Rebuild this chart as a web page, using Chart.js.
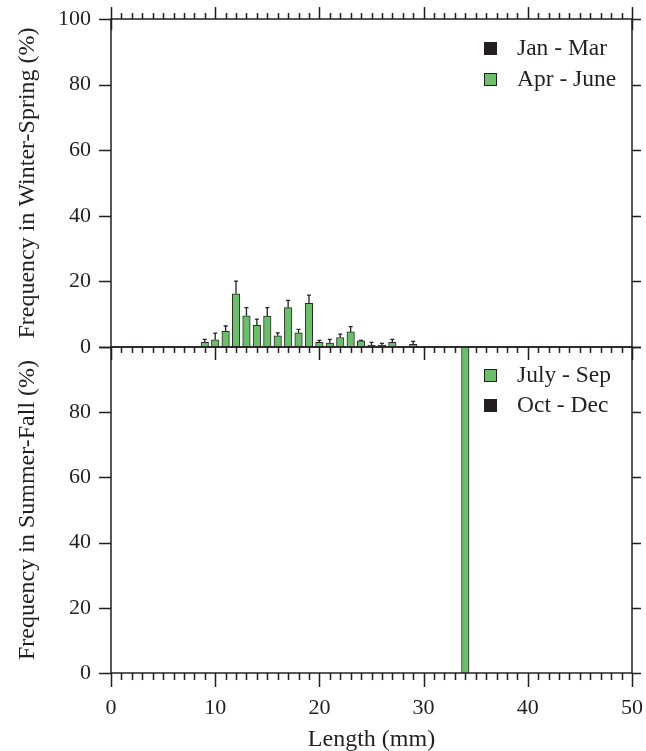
<!DOCTYPE html>
<html>
<head>
<meta charset="utf-8">
<script src="https://cdn.jsdelivr.net/npm/chart.js@4/dist/chart.umd.min.js"></script>
<style>
  html, body { margin: 0; padding: 0; background: #fff; }
  #wrap { position: relative; width: 646px; height: 751px; overflow: hidden; }
  canvas { position: absolute; left: 0; top: 0; }
  .leg { position: absolute; font-family: "Liberation Serif", "DejaVu Serif", serif; font-size: 23.5px; color: #231f20; line-height: 1; white-space: nowrap; }
  .sw { position: absolute; width: 11px; height: 11px; border: 1px solid #231f20; }
</style>
</head>
<body>
<div id="wrap">
  <canvas id="top" width="646" height="751"></canvas>
  <canvas id="bot" width="646" height="751"></canvas>
</div>
<script>
// ---- Data ----
const topLengths = [9, 10, 11, 12, 13, 14, 15, 16, 17, 18, 19, 20, 21, 22, 23, 24, 25, 26, 27, 29];
const aprJune    = [1.4, 2.2, 4.8, 16.2, 9.5, 6.6, 9.4, 3.4, 12.0, 4.3, 13.3, 1.4, 1.2, 2.9, 4.6, 1.9, 0.6, 0.6, 1.4, 0.8];
const aprJuneErr = [0.9, 2.0, 1.6, 3.9, 2.5, 1.9, 2.6, 0.9, 2.2, 1.1, 2.5, 0.6, 1.1, 1.0, 1.6, 0.1, 0.8, 0.5, 0.9, 0.9];
const janMar     = [];
const botLengths = [34];
const julySep    = [100];
const octDec     = [];
const xTickLabels = [0, 10, 20, 30, 40, 50];
const yTickLabels = [0, 20, 40, 60, 80, 100];

const GREEN = '#6abf69';
const DARK = '#231f20';
const FONT = '"Liberation Serif", "DejaVu Serif", serif';

function pts(xs, ys) { return xs.map((x, i) => ({ x: x, y: ys[i] })); }

// error bars + frame / ticks plugin
const framePlugin = {
  id: 'frame',
  afterDatasetsDraw(chart, args, opts) {
    const ctx = chart.ctx;
    const a = chart.chartArea;
    const xs = chart.scales.x, ys = chart.scales.y;
    ctx.save();
    ctx.strokeStyle = DARK;
    ctx.lineWidth = 1.3;
    // error bars
    chart.data.datasets.forEach((ds) => {
      if (!ds.errors) return;
      ds.data.forEach((p, i) => {
        const e = ds.errors[i];
        if (!e) return;
        const px = xs.getPixelForValue(p.x);
        const y0 = ys.getPixelForValue(p.y);
        const y1 = ys.getPixelForValue(p.y + e);
        ctx.beginPath();
        ctx.moveTo(px, y0); ctx.lineTo(px, y1);
        ctx.moveTo(px - 2, y1); ctx.lineTo(px + 2, y1);
        ctx.stroke();
      });
    });
    // frame
    ctx.lineWidth = 1.5;
    ctx.strokeRect(a.left, a.top, a.right - a.left, a.bottom - a.top);
    ctx.beginPath();
    // x ticks
    for (let v = 0; v <= 50; v++) {
      const px = Math.round(xs.getPixelForValue(v)) + 0.5;
      const major = v % 10 === 0;
      if (opts.topTicks) {
        const len = major ? 12 : 6;
        ctx.moveTo(px, a.top); ctx.lineTo(px, a.top - len);
        if (v === 0 || v === 50) { ctx.moveTo(px, a.top); ctx.lineTo(px, a.top + 11); }
      }
      if (opts.bottomTicks) {
        const len = major ? opts.bottomMajor : opts.bottomMinor;
        ctx.moveTo(px, a.bottom); ctx.lineTo(px, a.bottom + len);
      }
    }
    // y ticks left / right
    yTickLabels.forEach((v) => {
      const py = Math.round(ys.getPixelForValue(v)) + 0.5;
      ctx.moveTo(a.left, py); ctx.lineTo(a.left - 12, py);
      ctx.moveTo(a.right, py); ctx.lineTo(a.right + 9, py);
    });
    ctx.stroke();
    ctx.restore();
  }
};

function makeOpts(cfg) {
  return {
    responsive: false,
    animation: false,
    devicePixelRatio: 1,
    layout: { padding: cfg.padding },
    plugins: {
      legend: { display: false },
      tooltip: { enabled: false },
      frame: cfg.frame
    },
    scales: {
      x: {
        type: 'linear',
        min: 0, max: 50,
        offset: false,
        display: cfg.showX,
        grid: { display: false, drawTicks: false },
        border: { display: false },
        afterBuildTicks(scale) { scale.ticks = xTickLabels.map(v => ({ value: v })); },
        afterFit(scale) {
          scale.height = cfg.showX ? 78 : 0;
          scale.paddingLeft = 0; scale.paddingRight = 0;
          scale.paddingTop = 0; scale.paddingBottom = 0;
        },
        ticks: {
          padding: 22,
          color: DARK,
          font: { family: FONT, size: 22 },
          maxRotation: 0
        },
        title: {
          display: true,
          text: 'Length (mm)',
          color: DARK,
          font: { family: FONT, size: 24 },
          padding: { top: 0, bottom: -3 }
        }
      },
      y: {
        min: 0, max: 100,
        grid: { display: false, drawTicks: false },
        border: { display: false },
        afterBuildTicks(scale) { scale.ticks = yTickLabels.map(v => ({ value: v })); },
        afterFit(scale) {
          scale.width = 111;
          scale.paddingTop = 0; scale.paddingBottom = 0;
          scale.paddingLeft = 0; scale.paddingRight = 0;
        },
        ticks: {
          padding: 20,
          color: DARK,
          font: { family: FONT, size: 22 },
          callback: cfg.yCallback
        },
        title: {
          display: true,
          text: cfg.yTitle,
          color: DARK,
          font: { family: FONT, size: 24 },
          padding: { top: 13.5, bottom: 0 }
        }
      }
    }
  };
}

new Chart(document.getElementById('top'), {
  type: 'bar',
  data: {
    datasets: [
      { label: 'Jan - Mar', data: pts(topLengths.slice(0, janMar.length), janMar), backgroundColor: DARK, borderColor: DARK, borderWidth: 1, barThickness: 7.5, grouped: false },
      { label: 'Apr - June', data: pts(topLengths, aprJune), errors: aprJuneErr, backgroundColor: GREEN, borderColor: '#2a2a2a', borderWidth: 1, barThickness: 7.5, grouped: false }
    ]
  },
  options: makeOpts({
    padding: { left: 0, right: 14, top: 19, bottom: 404 },
    showX: false,
    yTitle: 'Frequency in Winter-Spring (%)',
    yCallback: (v) => v,
    frame: { topTicks: true, bottomTicks: true, bottomMajor: 13, bottomMinor: 6 }
  }),
  plugins: [framePlugin]
});

new Chart(document.getElementById('bot'), {
  type: 'bar',
  data: {
    datasets: [
      { label: 'July - Sep', data: pts(botLengths, julySep), backgroundColor: GREEN, borderColor: '#2a2a2a', borderWidth: 1, barThickness: 7.5, grouped: false },
      { label: 'Oct - Dec', data: pts(botLengths.slice(0, octDec.length), octDec), backgroundColor: DARK, borderColor: DARK, borderWidth: 1, barThickness: 7.5, grouped: false }
    ]
  },
  options: makeOpts({
    padding: { left: 0, right: 14, top: 347, bottom: 0 },
    showX: true,
    yTitle: 'Frequency in Summer-Fall (%)',
    yCallback: (v) => (v === 100 ? '' : v),
    frame: { topTicks: false, bottomTicks: true, bottomMajor: 14, bottomMinor: 7 }
  }),
  plugins: [framePlugin]
});
</script>
<div class="leg" style="left:484px; top:42px;"><span class="sw" style="left:0; top:0; background:#231f20;"></span><span style="position:absolute; left:33px; top:-6px;">Jan - Mar</span></div>
<div class="leg" style="left:484px; top:73px;"><span class="sw" style="left:0; top:0; background:#6abf69;"></span><span style="position:absolute; left:33px; top:-6px;">Apr - June</span></div>
<div class="leg" style="left:484px; top:369px;"><span class="sw" style="left:0; top:0; background:#6abf69;"></span><span style="position:absolute; left:33px; top:-6px;">July - Sep</span></div>
<div class="leg" style="left:484px; top:399px;"><span class="sw" style="left:0; top:0; background:#231f20;"></span><span style="position:absolute; left:33px; top:-6px;">Oct - Dec</span></div>
</body>
</html>
